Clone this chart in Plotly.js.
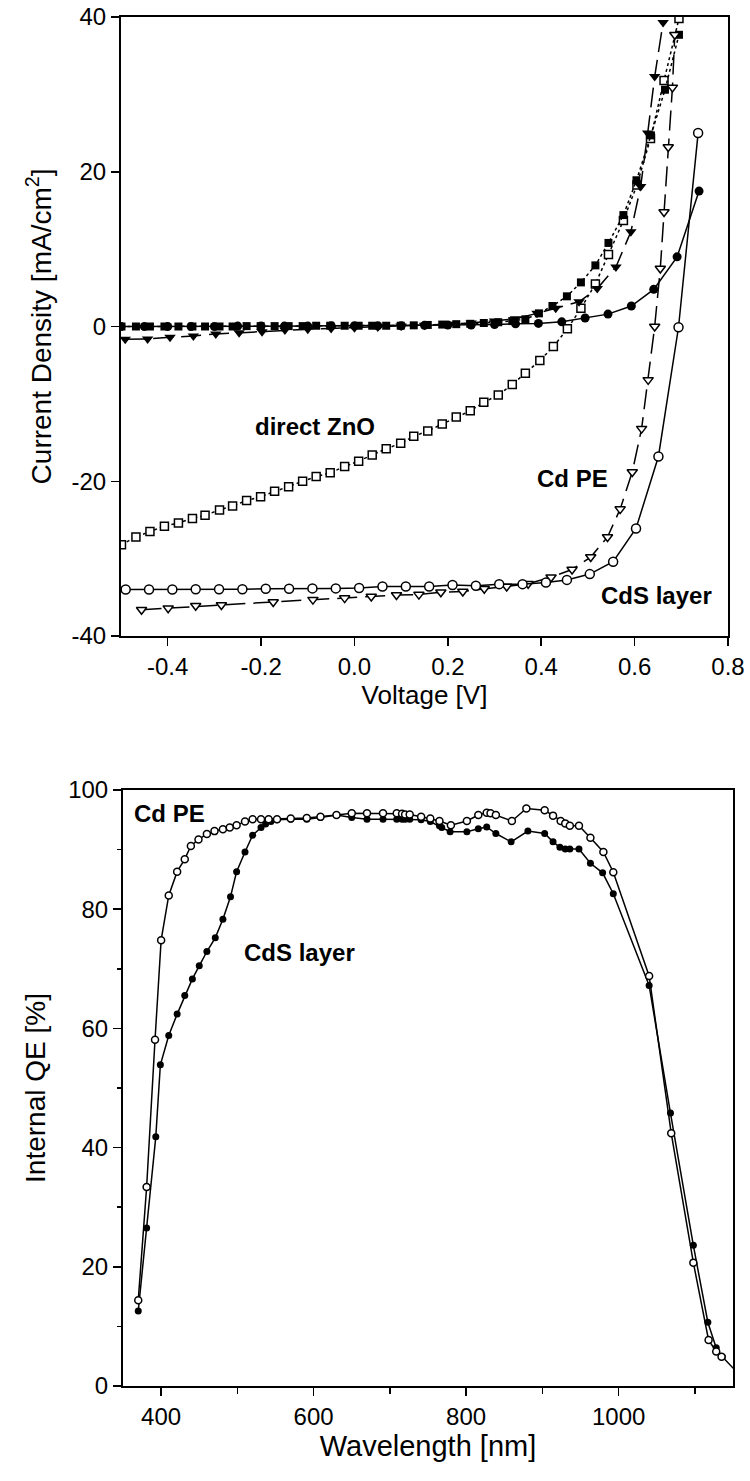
<!DOCTYPE html>
<html>
<head>
<meta charset="utf-8">
<script src="https://cdn.plot.ly/plotly-3.0.1.min.js"></script>
<style>html,body{margin:0;padding:0;background:#fff}#chart{width:750px;height:1481px}</style>
</head>
<body>
<div id="chart"></div>
<script>
// ---------- Top panel: J-V curves ----------
const cdsDarkV = [-0.50,-0.45,-0.40,-0.35,-0.30,-0.25,-0.20,-0.15,-0.10,-0.05,0.00,0.05,0.10,0.15,0.20,0.25,0.30,0.345,0.394,0.444,0.494,0.543,0.593,0.641,0.691,0.738];
const cdsDarkJ = [0.0,0.0,0.0,0.0,0.0,0.05,0.05,0.05,0.05,0.1,0.1,0.1,0.1,0.15,0.2,0.2,0.25,0.35,0.4,0.6,1.1,1.6,2.65,4.8,9.0,17.5];

const cdsLightV = [-0.49,-0.44,-0.39,-0.34,-0.29,-0.24,-0.19,-0.14,-0.09,-0.04,0.01,0.06,0.11,0.16,0.21,0.26,0.31,0.36,0.41,0.455,0.504,0.554,0.603,0.651,0.694,0.736];
const cdsLightJ = [-34.0,-34.0,-34.0,-33.95,-33.95,-33.95,-33.9,-33.9,-33.85,-33.85,-33.8,-33.6,-33.6,-33.6,-33.4,-33.5,-33.3,-33.3,-33.1,-32.75,-32.0,-30.4,-26.1,-16.8,-0.1,25.0];

const cdpeLightV = [-0.456,-0.399,-0.340,-0.285,-0.174,-0.089,-0.021,0.036,0.090,0.138,0.185,0.232,0.278,0.326,0.372,0.421,0.466,0.506,0.542,0.569,0.595,0.615,0.629,0.643,0.655,0.663,0.672,0.681,0.686];
const cdpeLightJ = [-36.6,-36.4,-36.1,-36.0,-35.6,-35.3,-35.1,-34.9,-34.7,-34.65,-34.35,-34.25,-33.9,-33.6,-33.25,-32.4,-31.4,-29.8,-27.2,-23.6,-18.8,-13.2,-6.9,0.0,7.5,14.8,23.2,30.9,37.7];

const cdpeDarkV = [-0.491,-0.443,-0.395,-0.345,-0.297,-0.247,-0.198,-0.149,-0.10,-0.05,0.00,0.05,0.10,0.15,0.20,0.25,0.30,0.345,0.391,0.431,0.481,0.520,0.560,0.592,0.613,0.628,0.643,0.661];
const cdpeDarkJ = [-1.65,-1.6,-1.4,-1.23,-0.97,-0.8,-0.67,-0.45,-0.35,-0.25,-0.15,-0.05,0.05,0.15,0.3,0.45,0.7,1.0,1.7,2.35,3.2,4.9,7.7,12.25,18.1,25.0,32.3,39.3];

const znoLightV = [-0.499,-0.468,-0.438,-0.407,-0.377,-0.347,-0.320,-0.289,-0.261,-0.231,-0.201,-0.171,-0.141,-0.111,-0.082,-0.052,-0.021,0.009,0.038,0.068,0.099,0.127,0.157,0.188,0.218,0.248,0.277,0.308,0.338,0.366,0.397,0.426,0.456,0.485,0.516,0.544,0.576,0.605,0.634,0.663,0.695];
const znoLightJ = [-28.2,-27.2,-26.5,-25.8,-25.4,-24.8,-24.4,-23.7,-23.2,-22.5,-22.0,-21.3,-20.7,-20.0,-19.4,-18.9,-18.1,-17.4,-16.6,-15.8,-15.1,-14.2,-13.5,-12.6,-11.7,-10.9,-9.8,-8.85,-7.5,-6.05,-4.4,-2.6,-0.3,2.35,5.5,9.3,13.7,18.3,24.3,31.8,39.8];

const znoDarkV = [-0.499,-0.468,-0.438,-0.407,-0.377,-0.347,-0.320,-0.289,-0.261,-0.231,-0.201,-0.171,-0.141,-0.111,-0.082,-0.052,-0.021,0.009,0.038,0.068,0.099,0.127,0.157,0.188,0.218,0.248,0.277,0.308,0.338,0.366,0.395,0.424,0.455,0.485,0.516,0.544,0.576,0.604,0.635,0.665,0.695];
const znoDarkJ = [0.0,0.0,0.0,0.0,0.0,0.0,0.0,0.0,0.0,0.05,0.05,0.05,0.05,0.05,0.1,0.1,0.1,0.1,0.1,0.1,0.1,0.15,0.2,0.25,0.3,0.35,0.45,0.55,0.7,0.93,1.7,2.65,3.9,5.7,7.9,10.8,14.4,18.9,24.7,30.6,37.7];

const jvXTicks = [-0.4,-0.2,0.0,0.2,0.4,0.6,0.8];
const jvXTickText = ['-0.4','-0.2','0.0','0.2','0.4','0.6','0.8'];
const jvYTicks = [-40,-20,0,20,40];
const jvYTickText = ['-40','-20','0','20','40'];

// ---------- Bottom panel: internal QE ----------
const qePeWl = [370,381,392,400,410,421,431,439,449,460,470,481,490,499,510,520,531,541,552,570,591,609,630,650,670,691,709,716,720,726,741,753,765,780,801,816,827,832,839,860,879,903,914,924,930,936,948,963,980,993,1040,1069,1098,1118,1128,1135];
const qePeVal = [14.4,33.4,58.1,74.8,82.3,86.3,88.4,90.6,91.7,92.6,93.1,93.4,93.7,94.1,94.7,95.1,95.1,95.1,95.1,95.2,95.3,95.5,95.8,96.1,96.1,96.1,96.1,96.0,95.9,95.9,95.5,95.2,94.8,94.1,94.8,95.8,96.2,96.1,95.8,94.8,96.9,96.6,95.7,94.8,94.4,94.0,94.0,92.0,89.6,86.2,68.8,42.4,20.7,7.7,5.8,4.9];

const qeCdsWl = [370,381,393,399,410,421,431,441,450,460,471,481,491,499,510,520,531,537,544,552,570,591,609,630,650,670,691,709,716,720,726,741,753,765,768,779,801,816,827,839,859,881,903,914,923,930,936,948,963,979,993,1040,1068,1098,1117,1128,1136,1165];
const qeCdsVal = [12.6,26.5,41.8,53.9,58.8,62.4,65.5,68.3,70.5,72.9,75.2,78.3,82.1,86.3,89.6,92.4,93.7,94.3,94.7,95.0,95.1,95.1,95.4,95.8,95.4,95.1,95.1,95.1,95.1,95.1,95.1,95.0,94.7,94.0,93.7,93.0,93.0,93.5,93.8,92.7,91.3,93.1,92.7,91.3,90.4,90.1,90.1,90.1,87.7,86.1,82.6,67.2,45.8,23.6,10.7,6.4,4.9,1.0];

const qeXTicks = [400,600,800,1000];
const qeXMinor = [500,700,900,1100];
const qeYTicks = [0,20,40,60,80,100];
const qeYMinor = [10,30,50,70,90];

// ---------- styling ----------
const FONT = 'Liberation Sans, Arial, Helvetica, sans-serif';
const BLACK = '#000000';

function openMk(symbol, size) {
  return {symbol: symbol, size: size, color: '#ffffff', line: {color: BLACK, width: 1.5}};
}
function fillMk(symbol, size) {
  return {symbol: symbol, size: size, color: BLACK, line: {color: BLACK, width: 0}};
}

const traces = [
  {x: znoLightV, y: znoLightJ, mode: 'lines+markers', line: {color: BLACK, width: 1.5, dash: 'dot'}, marker: openMk('square', 8), xaxis: 'x', yaxis: 'y'},
  {x: znoDarkV, y: znoDarkJ, mode: 'lines+markers', line: {color: BLACK, width: 1.5, dash: 'dot'}, marker: fillMk('square', 8), xaxis: 'x', yaxis: 'y'},
  {x: cdpeLightV, y: cdpeLightJ, mode: 'lines+markers', line: {color: BLACK, width: 1.5, dash: '20px,8px'}, marker: openMk('triangle-down', 9), xaxis: 'x', yaxis: 'y'},
  {x: cdpeDarkV, y: cdpeDarkJ, mode: 'lines+markers', line: {color: BLACK, width: 1.5, dash: '20px,8px'}, marker: fillMk('triangle-down', 10), xaxis: 'x', yaxis: 'y'},
  {x: cdsLightV, y: cdsLightJ, mode: 'lines+markers', line: {color: BLACK, width: 1.5}, marker: openMk('circle', 9), xaxis: 'x', yaxis: 'y'},
  {x: cdsDarkV, y: cdsDarkJ, mode: 'lines+markers', line: {color: BLACK, width: 1.5}, marker: fillMk('circle', 9), xaxis: 'x', yaxis: 'y'},
  {x: qeCdsWl, y: qeCdsVal, mode: 'lines+markers', line: {color: BLACK, width: 1.5}, marker: fillMk('circle', 7), xaxis: 'x2', yaxis: 'y2'},
  {x: qePeWl, y: qePeVal, mode: 'lines+markers', line: {color: BLACK, width: 1.5}, marker: openMk('circle', 7), xaxis: 'x2', yaxis: 'y2'}
];

const axisBase = {
  showline: true, linecolor: BLACK, linewidth: 2, mirror: true,
  showgrid: false, zeroline: false,
  ticks: 'outside', ticklen: 8, tickwidth: 1.5, tickcolor: BLACK,
  tickfont: {family: FONT, size: 24, color: BLACK},
  tickmode: 'array', fixedrange: true
};

const W = 750, H = 1481;
const layout = {
  width: W, height: H,
  margin: {l: 0, r: 0, t: 0, b: 0},
  paper_bgcolor: '#ffffff', plot_bgcolor: '#ffffff',
  showlegend: false,
  font: {family: FONT, color: BLACK},
  xaxis: Object.assign({}, axisBase, {
    domain: [121/W, 728/W], range: [-0.5, 0.8],
    tickvals: jvXTicks, ticktext: jvXTickText, anchor: 'y',
    title: {text: 'Voltage [V]', font: {family: FONT, size: 26, color: BLACK}, standoff: 3}
  }),
  yaxis: Object.assign({}, axisBase, {
    domain: [1 - 636/H, 1 - 17/H], range: [-40, 40],
    tickvals: jvYTicks, ticktext: jvYTickText, anchor: 'x',
    title: {text: 'Current Density [mA/cm<sup>2</sup>]', font: {family: FONT, size: 28, color: BLACK}, standoff: 12}
  }),
  xaxis2: Object.assign({}, axisBase, {
    domain: [123/W, 733/W], range: [350, 1150],
    tickvals: qeXTicks, ticktext: qeXTicks.map(String), anchor: 'y2',
    minor: {tickmode: 'array', tickvals: qeXMinor, ticks: 'outside', ticklen: 6, tickwidth: 1.5, tickcolor: BLACK},
    title: {text: 'Wavelength [nm]', font: {family: FONT, size: 29, color: BLACK}, standoff: 6}
  }),
  yaxis2: Object.assign({}, axisBase, {
    domain: [1 - 1386/H, 1 - 790/H], range: [0, 100],
    tickvals: qeYTicks, ticktext: qeYTicks.map(String), anchor: 'x2',
    minor: {tickmode: 'array', tickvals: qeYMinor, ticks: 'outside', ticklen: 4, tickwidth: 1.5, tickcolor: BLACK},
    title: {text: 'Internal QE [%]', font: {family: FONT, size: 28, color: BLACK}, standoff: 14}
  }),
  annotations: [
    {x: -0.0835, y: -12.9, xref: 'x', yref: 'y', text: '<b>direct ZnO</b>', showarrow: false, font: {family: FONT, size: 24, color: BLACK}},
    {x: 0.467, y: -19.7, xref: 'x', yref: 'y', text: '<b>Cd PE</b>', showarrow: false, font: {family: FONT, size: 24, color: BLACK}},
    {x: 0.647, y: -34.8, xref: 'x', yref: 'y', text: '<b>CdS layer</b>', showarrow: false, font: {family: FONT, size: 24, color: BLACK}},
    {x: 411.6, y: 96.0, xref: 'x2', yref: 'y2', text: '<b>Cd PE</b>', showarrow: false, font: {family: FONT, size: 24, color: BLACK}},
    {x: 582, y: 72.7, xref: 'x2', yref: 'y2', text: '<b>CdS layer</b>', showarrow: false, font: {family: FONT, size: 24, color: BLACK}}
  ]
};

Plotly.newPlot('chart', traces, layout, {staticPlot: true, displayModeBar: false});
</script>
</body>
</html>
